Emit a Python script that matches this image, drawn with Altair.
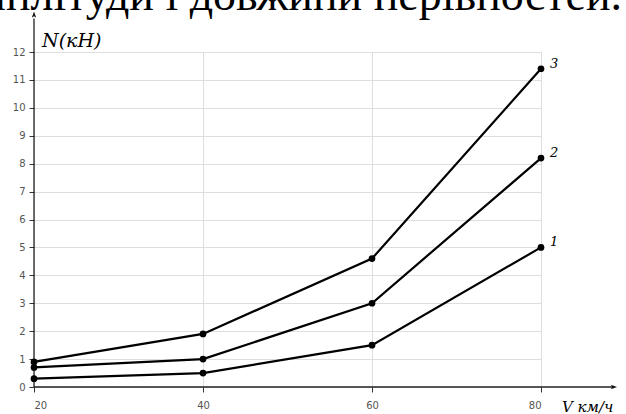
import altair as alt
import pandas as pd

speeds = [20, 40, 60, 80]
curve1 = [0.3, 0.5, 1.5, 5.0]
curve2 = [0.7, 1.0, 3.0, 8.2]
curve3 = [0.9, 1.9, 4.6, 11.4]
curve_names = ["1", "2", "3"]
y_ticks = list(range(0, 13))
x_ticks = [20, 40, 60, 80]

rows = []
for name, vals in zip(curve_names, [curve1, curve2, curve3]):
    for s, v in zip(speeds, vals):
        rows.append({"V": s, "N": v, "curve": name})
df = pd.DataFrame(rows)
ends = df[df["V"] == 80]

xs = alt.Scale(domain=[20, 80], nice=False, zero=False)
ys = alt.Scale(domain=[0, 12], nice=False, zero=False)

xaxis = alt.Axis(values=x_ticks, grid=True, gridColor="#dedede", domain=False,
                 tickColor="#333", tickSize=5, labelFontSize=10, labelColor="#555",
                 labelFont="DejaVu Sans", labelPadding=8, title=None, labelOverlap=False)
yaxis = alt.Axis(values=y_ticks, grid=True, gridColor="#dedede", domain=False,
                 tickColor="#333", tickSize=5, labelFontSize=10, labelColor="#555",
                 labelFont="DejaVu Sans", labelPadding=4, title=None, labelOverlap=False)

def X(field):
    return alt.X(field, scale=xs, axis=xaxis)

def Y(field):
    return alt.Y(field, scale=ys, axis=yaxis)

lines = alt.Chart(df).mark_line(color="black", strokeWidth=2.2).encode(
    x=X("V:Q"), y=Y("N:Q"), detail="curve:N",
)
points = alt.Chart(df).mark_circle(color="black", size=45, opacity=1).encode(
    x=X("V:Q"), y=Y("N:Q")
)
labels = alt.Chart(ends).mark_text(
    font="DejaVu Serif", fontStyle="italic", fontSize=13, align="left", dx=9, dy=-5
).encode(x=X("V:Q"), y=Y("N:Q"), text="curve:N")

axis_df = pd.DataFrame({"x1": [20, 20], "x2": [88.6, 20], "y1": [0, 0], "y2": [0, 13.2]})
axis_lines = alt.Chart(axis_df).mark_rule(color="#222", strokeWidth=1.3).encode(
    x=X("x1:Q"), x2="x2:Q", y=Y("y1:Q"), y2="y2:Q"
)
arrow_x = alt.Chart(pd.DataFrame({"x": [89.0], "y": [0]})).mark_point(
    shape="M-1,-0.35L0,0L-1,0.35L-0.75,0Z", filled=True, color="#111", size=160, opacity=1
).encode(x=X("x:Q"), y=Y("y:Q"))
arrow_y = alt.Chart(pd.DataFrame({"x": [20], "y": [13.45]})).mark_point(
    shape="M-0.35,1L0,0L0.35,1L0,0.75Z", filled=True, color="#111", size=160, opacity=1
).encode(x=X("x:Q"), y=Y("y:Q"))

ytitle = alt.Chart(pd.DataFrame({"t": ["N(кН)"]})).mark_text(
    font="DejaVu Serif", fontStyle="italic", fontSize=19, align="left", baseline="alphabetic"
).encode(x=alt.value(8), y=alt.value(-5), text="t:N")
xtitle = alt.Chart(pd.DataFrame({"t": ["V км/ч"]})).mark_text(
    font="DejaVu Serif", fontStyle="italic", fontSize=15, align="left", baseline="alphabetic"
).encode(x=alt.value(528), y=alt.value(360), text="t:N")
toptext = alt.Chart(pd.DataFrame({"t": ["амплітуди і довжини нерівностей."]})).mark_text(
    font="Liberation Serif", fontSize=46, align="right", baseline="alphabetic"
).encode(x=alt.value(588), y=alt.value(-42), text="t:N")

chart = alt.layer(lines, axis_lines, points, labels, arrow_x, arrow_y, ytitle, xtitle, toptext).properties(
    width=507, height=335,
    autosize=alt.AutoSizeParams(type="none"),
    padding={"left": 34, "top": 52, "right": 85, "bottom": 27},
).configure_view(stroke=None).configure(background="white")

chart.save("out.html", embed_options={"renderer": "svg", "actions": False})
